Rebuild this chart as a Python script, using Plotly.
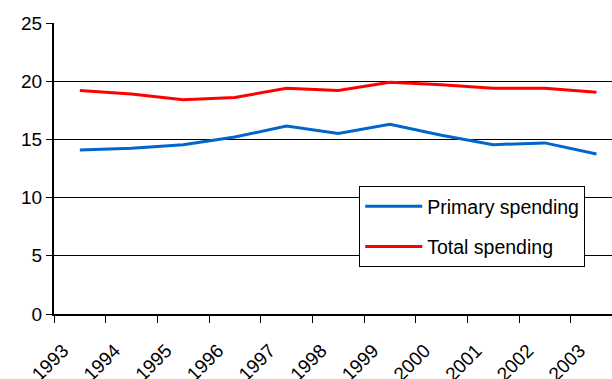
import plotly.graph_objects as go

# Spending shares by year (points sit mid-year between tick boundaries)
years = [1993, 1994, 1995, 1996, 1997, 1998, 1999, 2000, 2001, 2002, 2003]
primary_spending = [14.1, 14.25, 14.55, 15.2, 16.15, 15.5, 16.3, 15.35, 14.55, 14.7, 13.75]
total_spending = [19.2, 18.9, 18.4, 18.6, 19.4, 19.2, 19.9, 19.7, 19.4, 19.4, 19.05]
tick_labels = [str(y) for y in years]

x_mid = [y + 0.5 for y in years]

fig = go.Figure()
fig.add_trace(go.Scatter(x=x_mid, y=primary_spending, mode="lines",
                         name="Primary spending", legendgroup="a",
                         line=dict(color="#0066cc", width=3)))
fig.add_trace(go.Scatter(x=x_mid, y=total_spending, mode="lines",
                         name="Total spending", legendgroup="b",
                         line=dict(color="#ff0000", width=3)))

font_family = "Liberation Sans, Arial, sans-serif"

fig.update_layout(
    width=612, height=379,
    margin=dict(l=54, r=0, t=23, b=65),
    paper_bgcolor="white", plot_bgcolor="white",
    font=dict(family=font_family, size=19, color="black"),
    showlegend=True,
    legend=dict(x=0.547, y=0.44, xanchor="left", yanchor="top",
                bgcolor="white", bordercolor="black", borderwidth=1,
                font=dict(size=19.5), traceorder="grouped",
                tracegroupgap=12, itemwidth=57),
    xaxis=dict(range=[1993, 2003.8], tickmode="array", tickvals=years,
               ticktext=tick_labels, tickangle=-45, ticks="outside",
               ticklen=7, tickwidth=1, tickcolor="black", showgrid=False,
               showline=True, linecolor="black", linewidth=2,
               zeroline=False, tickfont=dict(size=19), automargin=False,
               ticklabelstandoff=9, ticklabelshift=9),
    yaxis=dict(range=[0, 25], tickvals=[0, 5, 10, 15, 20, 25],
               ticks="outside", ticklen=6, tickwidth=1, tickcolor="black",
               showgrid=True, gridcolor="black", gridwidth=1,
               showline=True, linecolor="black", linewidth=2,
               zeroline=False, tickfont=dict(size=19), automargin=False),
)

fig.write_html("out.html")
